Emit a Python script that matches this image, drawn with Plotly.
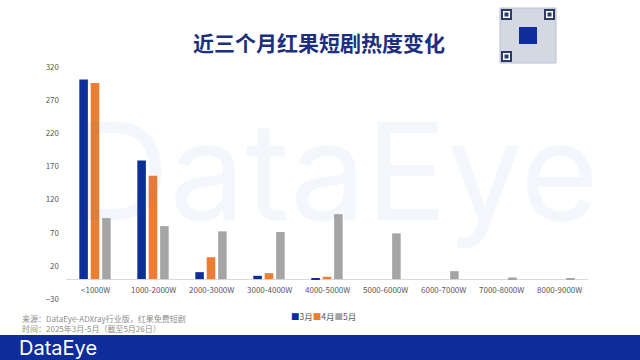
import plotly.graph_objects as go

categories = ["<1000W", "1000-2000W", "2000-3000W", "3000-4000W", "4000-5000W",
              "5000-6000W", "6000-7000W", "7000-8000W", "8000-9000W"]
mar = [301, 179, 10.5, 5, 1.5, None, None, None, None]
apr = [296, 156, 33, 9, 3.5, None, None, None, None]
may = [92, 80, 72, 71, 98, 69, 12, 2.5, 1]
series_names = ["3月", "4月", "5月"]
colors = ["#0B2F96", "#ED7D31", "#A5A5A5"]
y_ticks = [-30, 20, 70, 120, 170, 220, 270, 320]

W, H = 640, 360
L, R, T, B = 66, 52, 67, 30
pw, ph = W - L - R, H - T - B
# y=320 at px 67, y=-30 at px 299 -> extend range down to the plot bottom (px 330)
unit = (299 - 67) / 350.0
y_lo = -30 - (H - B - 299) / unit

def px(x):
    return (x - L) / pw

def py(y):
    return (H - B - y) / ph

fig = go.Figure()
for name, vals, c in zip(series_names, [mar, apr, may], colors):
    fig.add_trace(go.Bar(x=categories, y=vals, name=name, marker_color=c,
                         marker_line_width=0, showlegend=False))

annotations = []
for cat in categories:
    annotations.append(dict(x=cat, y=0, xref="x", yref="y", text=cat, showarrow=False,
                            xanchor="center", yanchor="top", yshift=-3,
                            font=dict(size=8, color="#595959")))

legend_text = "".join(
    f"<span style='color:{c}'>■</span>{n}" for n, c in zip(series_names, colors))

def note(x, y, text, size, color, family="Noto Sans CJK SC", xanchor="center", **kw):
    return dict(x=px(x), y=py(y), xref="paper", yref="paper", text=text, showarrow=False,
                xanchor=xanchor, yanchor="middle",
                font=dict(size=size, color=color, family=family), **kw)

annotations += [
    note(335, 171, "DataEye", 135, "#2F6FD0", family="Inter", opacity=0.05),
    note(319, 42, "<b>近三个月红果短剧热度变化</b>", 21, "#1B2F7E"),
    note(20, 318, "来源：DataEye-ADXray行业版，红果免费短剧", 8, "#8C8C8C", xanchor="left"),
    note(20, 328, "时间：2025年3月-5月（截至5月26日）", 8, "#8C8C8C", xanchor="left"),
    note(289, 316, legend_text, 8.5, "#595959", xanchor="left"),
    note(17, 348, "DataEye", 20, "white", family="Inter", xanchor="left"),
]

def rect(x0, y0, x1, y1, fill, line=None, layer="above"):
    return dict(type="rect", xref="paper", yref="paper", x0=px(x0), x1=px(x1),
                y0=py(y1), y1=py(y0), fillcolor=fill,
                line=line if line else dict(width=0), layer=layer)

shapes = [
    rect(0, 335, 640, 361, "#0E2C9A"),
    rect(500, 8, 556, 63, "#D3D8E3", line=dict(color="#B8C0D2", width=1)),
    rect(501, 9, 512, 20, "#2B3A67"), rect(503, 11, 510, 18, "#FFFFFF"),
    rect(504.5, 12.5, 508.5, 16.5, "#2B3A67"),
    rect(544, 9, 555, 20, "#2B3A67"), rect(546, 11, 553, 18, "#FFFFFF"),
    rect(547.5, 12.5, 551.5, 16.5, "#2B3A67"),
    rect(501, 51, 512, 62, "#2B3A67"), rect(503, 53, 510, 60, "#FFFFFF"),
    rect(504.5, 54.5, 508.5, 58.5, "#2B3A67"),
    rect(519, 27, 537, 44, "#0E2C9A"),
]

fig.update_layout(
    width=W, height=H,
    margin=dict(l=L, r=R, t=T, b=B, autoexpand=False),
    paper_bgcolor="white", plot_bgcolor="white",
    barmode="group", bargap=0.41, bargroupgap=0.25,
    font=dict(family="Noto Sans CJK SC", size=8, color="#595959"),
    showlegend=False,
    xaxis=dict(showticklabels=False, showgrid=False, showline=False, ticks=""),
    yaxis=dict(range=[y_lo, 320], tickvals=y_ticks, showgrid=False, showline=False,
               zeroline=True, zerolinecolor="#D9D9D9", zerolinewidth=1,
               tickfont=dict(size=8, color="#595959"), ticklabelstandoff=6),
    annotations=annotations, shapes=shapes,
)

fig.write_html("out.html", config={"displayModeBar": False},
               post_script="document.body.style.margin='0';")
